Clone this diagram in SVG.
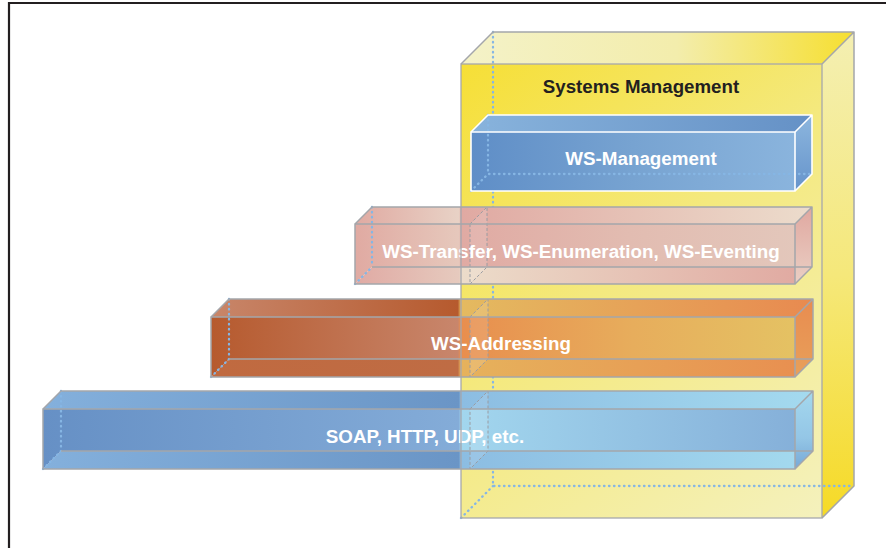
<svg xmlns="http://www.w3.org/2000/svg" width="886" height="548" viewBox="0 0 886 548">
<defs>
<style>
.edge{fill:none;stroke:#a4a6ab;stroke-width:1.5;stroke-linejoin:round}
.wedge{fill:none;stroke:#ffffff;stroke-width:1.6;stroke-linejoin:round}
.dot{fill:none;stroke:#86b6e4;stroke-width:2.3;stroke-dasharray:0.5 4.5;stroke-linecap:round}
.slice{fill:#ffffff;fill-opacity:0.12;stroke:#9a9ca2;stroke-width:1;stroke-dasharray:3 2}
.lbl{font-family:"Liberation Sans",Arial,Helvetica,sans-serif;font-weight:bold;font-size:18.8px;text-anchor:middle;fill:#ffffff}
.ttl{font-family:"Liberation Sans",Arial,Helvetica,sans-serif;font-weight:bold;font-size:18.7px;text-anchor:middle;fill:#231f20}
</style>
<linearGradient id="yFront" gradientUnits="userSpaceOnUse" x1="461" y1="64" x2="822" y2="518">
<stop offset="0" stop-color="#f6df36"/><stop offset="0.45" stop-color="#f4e97e"/><stop offset="1" stop-color="#f4f1bd"/>
</linearGradient>
<linearGradient id="yTop" gradientUnits="userSpaceOnUse" x1="461" y1="0" x2="854" y2="0">
<stop offset="0" stop-color="#f4f2c8"/><stop offset="0.55" stop-color="#f3edac"/><stop offset="1" stop-color="#f6df30"/>
</linearGradient>
<linearGradient id="yRight" gradientUnits="userSpaceOnUse" x1="0" y1="32" x2="0" y2="518">
<stop offset="0" stop-color="#f4efb2"/><stop offset="0.5" stop-color="#f5e87a"/><stop offset="1" stop-color="#f6da26"/>
</linearGradient>
<linearGradient id="mFront" gradientUnits="userSpaceOnUse" x1="471" y1="0" x2="795" y2="0">
<stop offset="0" stop-color="#5f8ec7"/><stop offset="0.5" stop-color="#77a3d1"/><stop offset="1" stop-color="#8ab4dd"/>
</linearGradient>
<linearGradient id="mTop" gradientUnits="userSpaceOnUse" x1="471" y1="0" x2="812" y2="0">
<stop offset="0" stop-color="#88b3dc"/><stop offset="1" stop-color="#6591c6"/>
</linearGradient>
<linearGradient id="mRight" gradientUnits="userSpaceOnUse" x1="0" y1="115" x2="0" y2="191">
<stop offset="0" stop-color="#8cb6de"/><stop offset="1" stop-color="#6694cb"/>
</linearGradient>
<linearGradient id="tFront" gradientUnits="userSpaceOnUse" x1="355" y1="0" x2="812" y2="0">
<stop offset="0" stop-color="#e0aaa2"/><stop offset="0.228" stop-color="#e6c8bc"/><stop offset="0.232" stop-color="#e0aaa3"/><stop offset="0.6" stop-color="#e2bcb1"/><stop offset="1" stop-color="#e3c8bc"/>
</linearGradient>
<linearGradient id="tTop" gradientUnits="userSpaceOnUse" x1="355" y1="0" x2="812" y2="0">
<stop offset="0" stop-color="#e0aaa2"/><stop offset="0.228" stop-color="#e8d2c6"/><stop offset="0.232" stop-color="#e0a9a2"/><stop offset="1" stop-color="#ecdccc"/>
</linearGradient>
<linearGradient id="tBot" gradientUnits="userSpaceOnUse" x1="355" y1="0" x2="812" y2="0">
<stop offset="0" stop-color="#e0aaa4"/><stop offset="0.228" stop-color="#e6cabe"/><stop offset="0.232" stop-color="#ecdcca"/><stop offset="1" stop-color="#e0a8a0"/>
</linearGradient>
<linearGradient id="tRight" gradientUnits="userSpaceOnUse" x1="0" y1="207" x2="0" y2="284">
<stop offset="0" stop-color="#e0a8a0"/><stop offset="1" stop-color="#eacfc4"/>
</linearGradient>
<linearGradient id="aFront" gradientUnits="userSpaceOnUse" x1="211" y1="0" x2="813" y2="0">
<stop offset="0" stop-color="#b65a2e"/><stop offset="0.41" stop-color="#c8866c"/><stop offset="0.415" stop-color="#e88e4e"/><stop offset="0.7" stop-color="#e7ad5c"/><stop offset="1" stop-color="#e4c464"/>
</linearGradient>
<linearGradient id="aTop" gradientUnits="userSpaceOnUse" x1="211" y1="0" x2="813" y2="0">
<stop offset="0" stop-color="#c8866a"/><stop offset="0.41" stop-color="#b65a2e"/><stop offset="0.415" stop-color="#e4ba60"/><stop offset="1" stop-color="#e88a50"/>
</linearGradient>
<linearGradient id="aBot" gradientUnits="userSpaceOnUse" x1="211" y1="0" x2="813" y2="0">
<stop offset="0" stop-color="#c06a40"/><stop offset="0.41" stop-color="#bf6c44"/><stop offset="0.415" stop-color="#e6b25c"/><stop offset="1" stop-color="#e88e50"/>
</linearGradient>
<linearGradient id="aRight" gradientUnits="userSpaceOnUse" x1="0" y1="299" x2="0" y2="377">
<stop offset="0" stop-color="#e88c50"/><stop offset="1" stop-color="#e8a05a"/>
</linearGradient>
<linearGradient id="sFront" gradientUnits="userSpaceOnUse" x1="43" y1="0" x2="813" y2="0">
<stop offset="0" stop-color="#6690c5"/><stop offset="0.54" stop-color="#84acd8"/><stop offset="0.543" stop-color="#a2d6ee"/><stop offset="1" stop-color="#84aed8"/>
</linearGradient>
<linearGradient id="sTop" gradientUnits="userSpaceOnUse" x1="43" y1="0" x2="813" y2="0">
<stop offset="0" stop-color="#84b0dc"/><stop offset="0.54" stop-color="#6a95c6"/><stop offset="0.543" stop-color="#8cbde2"/><stop offset="1" stop-color="#a4daef"/>
</linearGradient>
<linearGradient id="sRight" gradientUnits="userSpaceOnUse" x1="0" y1="391" x2="0" y2="469">
<stop offset="0" stop-color="#a4d8ee"/><stop offset="0.6" stop-color="#94c6e6"/><stop offset="1" stop-color="#76a8d6"/>
</linearGradient>
</defs>

<g id="frame">
<path d="M9,548 V3 H886" fill="none" stroke="#231f20" stroke-width="2.2"/>
</g>

<g id="systems-management">
<rect x="461" y="64" width="361" height="454" fill="url(#yFront)"/>
<polygon points="461,64 493,32 854,32 822,64" fill="url(#yTop)"/>
<polygon points="822,64 854,32 854,486 822,518" fill="url(#yRight)"/>
<path class="dot" d="M493,32 V486 H854 M461,518 L493,486"/>
<text class="ttl" x="641" y="93">Systems Management</text>
</g>

<g id="ws-management">
<rect x="471" y="132" width="324" height="59" fill="url(#mFront)"/>
<polygon points="471,132 488,115 812,115 795,132" fill="url(#mTop)"/>
<polygon points="795,132 812,115 812,174 795,191" fill="url(#mRight)"/>
<path class="dot" d="M488,115 V174 H812 M471,191 L488,174"/>
<rect class="wedge" x="471" y="132" width="324" height="59"/>
<path class="wedge" d="M471,132 L488,115 H812 L795,132 M812,115 V174 L795,191"/>
<text class="lbl" x="641" y="165">WS-Management</text>
</g>

<g id="ws-transfer">
<polygon points="355,224 372,207 812,207 795,224" fill="url(#tTop)"/>
<polygon points="795,224 812,207 812,267 795,284" fill="url(#tRight)"/>
<rect x="355" y="224" width="440" height="43" fill="url(#tFront)"/>
<polygon points="355,284 372,267 795,267 795,284" fill="url(#tBot)"/>
<polygon points="355,267 372,267 355,284" fill="url(#tFront)"/>
<polygon class="slice" points="470,224 487,207 487,267 470,284"/>
<path class="dot" d="M372,207 V267 M355,284 L372,267"/>
<rect class="edge" x="355" y="224" width="440" height="60"/>
<path class="edge" d="M355,224 L372,207 H812 L795,224 M812,207 V267 L795,284 M372,267 H812"/>
<text class="lbl" x="581" y="258">WS-Transfer, WS-Enumeration, WS-Eventing</text>
</g>

<g id="ws-addressing">
<polygon points="211,317 229,299 813,299 795,317" fill="url(#aTop)"/>
<polygon points="795,317 813,299 813,359 795,377" fill="url(#aRight)"/>
<rect x="211" y="317" width="584" height="42" fill="url(#aFront)"/>
<polygon points="211,377 229,359 795,359 795,377" fill="url(#aBot)"/>
<polygon points="211,359 229,359 211,377" fill="url(#aFront)"/>
<polygon class="slice" points="470,317 488,299 488,359 470,377"/>
<path class="dot" d="M229,299 V359 M211,377 L229,359"/>
<rect class="edge" x="211" y="317" width="584" height="60"/>
<path class="edge" d="M211,317 L229,299 H813 L795,317 M813,299 V359 L795,377 M229,359 H813"/>
<text class="lbl" x="501" y="350">WS-Addressing</text>
</g>

<g id="soap">
<polygon points="43,409 61,391 813,391 795,409" fill="url(#sTop)"/>
<polygon points="795,409 813,391 813,451 795,469" fill="url(#sRight)"/>
<rect x="43" y="409" width="752" height="42" fill="url(#sFront)"/>
<polygon points="43,469 61,451 795,451 795,469" fill="url(#sTop)"/>
<polygon points="43,451 61,451 43,469" fill="url(#sFront)"/>
<polygon class="slice" points="470,409 488,391 488,451 470,469"/>
<path class="dot" d="M61,391 V451 M43,469 L61,451"/>
<rect class="edge" x="43" y="409" width="752" height="60"/>
<path class="edge" d="M43,409 L61,391 H813 L795,409 M813,391 V451 L795,469 M61,451 H813"/>
<text class="lbl" x="425" y="443">SOAP, HTTP, UDP, etc.</text>
</g>

<g id="systems-management-edges">
<rect class="edge" x="461" y="64" width="361" height="454" stroke-opacity="0.85"/>
<path class="edge" d="M461,64 L493,32 H854 L822,64 M854,32 V486 L822,518"/>
</g>
</svg>
